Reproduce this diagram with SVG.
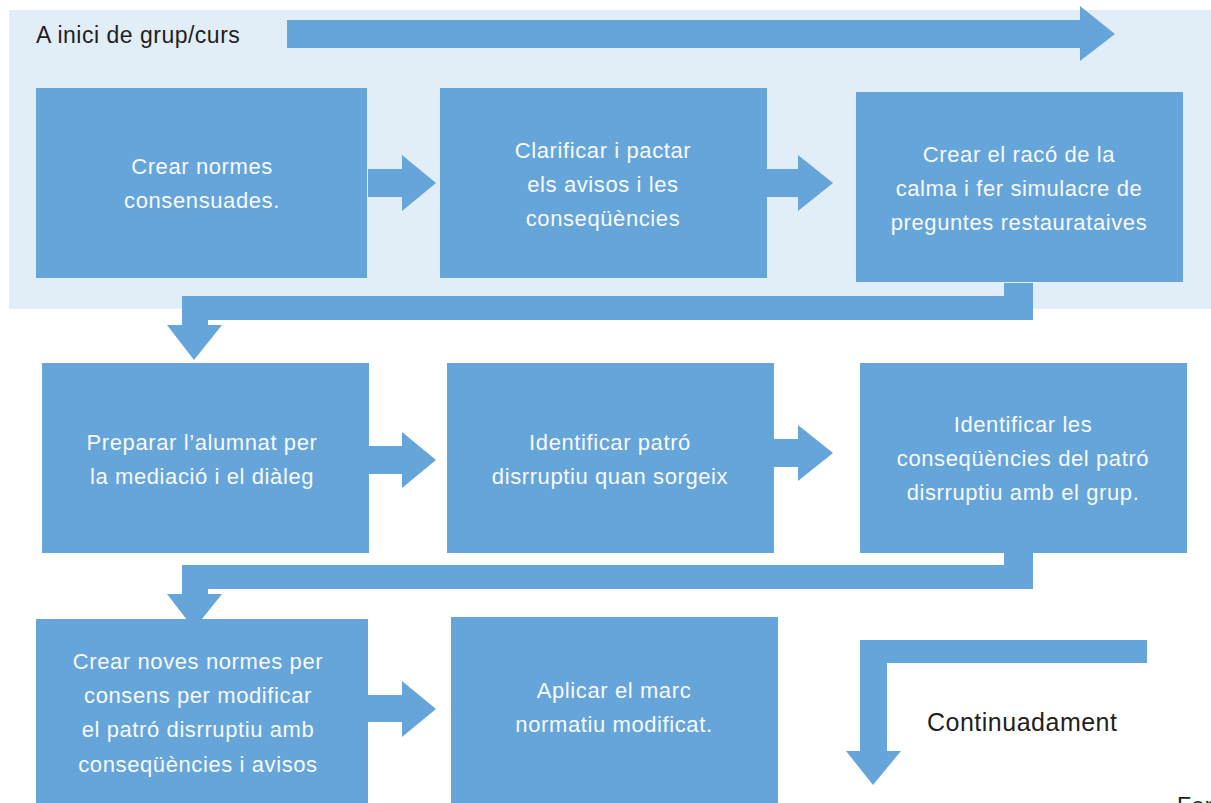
<svg xmlns="http://www.w3.org/2000/svg" width="1211" height="803" viewBox="0 0 1211 803">
  <style>
    .box { fill: #66a5da; }
    .flow { fill: #66a5da; }
    .lbl { font-family: "Liberation Sans", Arial, sans-serif; font-size: 22px; letter-spacing: 0.6px; fill: #f7fafd; text-anchor: middle; }
    .note { font-family: "Liberation Sans", Arial, sans-serif; fill: #231f20; }
  </style>
  <rect width="1211" height="803" fill="#ffffff"/>

  <!-- start-of-course band -->
  <g id="band-start">
    <rect x="9" y="10" width="1202" height="299" fill="#e1edf7"/>
    <text class="note" x="36" y="43" font-size="23" letter-spacing="0.5">A inici de grup/curs</text>
  </g>

  <!-- connectors -->
  <g id="connectors">
    <!-- long arrow across the band -->
    <polygon class="flow" points="287,20 1080,20 1080,6 1115,34 1080,61 1080,48 287,48"/>
    <!-- row 1 -->
    <polygon class="flow" points="368,169 402,169 402,155 436,183 402,211 402,197 368,197"/>
    <polygon class="flow" points="767,169 798,169 798,155 833,183 798,211 798,197 767,197"/>
    <!-- row 1 to row 2 -->
    <polygon class="flow" points="1004,283 1033,283 1033,320 208,320 208,325 222,325 194,360 167,325 182,325 182,296 1004,296"/>
    <!-- row 2 -->
    <polygon class="flow" points="369,446 402,446 402,432 436,460 402,488 402,474 369,474"/>
    <polygon class="flow" points="774,439 798,439 798,425 833,453 798,481 798,467 774,467"/>
    <!-- row 2 to row 3 -->
    <polygon class="flow" points="1004,553 1033,553 1033,589 208,589 208,594 222,594 194,629 167,594 182,594 182,565 1004,565"/>
    <!-- row 3 -->
    <polygon class="flow" points="368,695 402,695 402,681 436,709 402,737 402,722 368,722"/>
    <!-- ongoing loop -->
    <polygon class="flow" points="1147,640 1147,663 887,663 887,751 901,751 873,785 846,751 860,751 860,640"/>
  </g>

  <!-- row 1 -->
  <g id="n1">
    <rect class="box" x="36" y="88" width="331" height="190"/>
    <text class="lbl" x="202" y="174">Crear normes</text>
    <text class="lbl" x="202" y="208">consensuades.</text>
  </g>
  <g id="n2">
    <rect class="box" x="440" y="88" width="327" height="190"/>
    <text class="lbl" x="603" y="158">Clarificar i pactar</text>
    <text class="lbl" x="603" y="192">els avisos i les</text>
    <text class="lbl" x="603" y="226">conseqüències</text>
  </g>
  <g id="n3">
    <rect class="box" x="856" y="92" width="327" height="190"/>
    <text class="lbl" x="1019" y="162">Crear el racó de la</text>
    <text class="lbl" x="1019" y="196">calma i fer simulacre de</text>
    <text class="lbl" x="1019" y="230">preguntes restaurataives</text>
  </g>

  <!-- row 2 -->
  <g id="n4">
    <rect class="box" x="42" y="363" width="327" height="190"/>
    <text class="lbl" x="202" y="450">Preparar l’alumnat per</text>
    <text class="lbl" x="202" y="484">la mediació i el diàleg</text>
  </g>
  <g id="n5">
    <rect class="box" x="447" y="363" width="327" height="190"/>
    <text class="lbl" x="610" y="450">Identificar patró</text>
    <text class="lbl" x="610" y="484">disrruptiu quan sorgeix</text>
  </g>
  <g id="n6">
    <rect class="box" x="860" y="363" width="327" height="190"/>
    <text class="lbl" x="1023" y="432">Identificar les</text>
    <text class="lbl" x="1023" y="466">conseqüències del patró</text>
    <text class="lbl" x="1023" y="500">disrruptiu amb el grup.</text>
  </g>

  <!-- row 3 -->
  <g id="n7">
    <rect class="box" x="36" y="619" width="332" height="184"/>
    <text class="lbl" x="198" y="669">Crear noves normes per</text>
    <text class="lbl" x="198" y="703">consens per modificar</text>
    <text class="lbl" x="198" y="737">el patró disrruptiu amb</text>
    <text class="lbl" x="198" y="772">conseqüències i avisos</text>
  </g>
  <g id="n8">
    <rect class="box" x="451" y="617" width="327" height="186"/>
    <text class="lbl" x="614" y="698">Aplicar el marc</text>
    <text class="lbl" x="614" y="732">normatiu modificat.</text>
  </g>

  <g id="ongoing">
    <text class="note" x="927" y="731" font-size="25" letter-spacing="0.5">Continuadament</text>
  </g>
  <text class="note" x="1177" y="814" font-size="23" letter-spacing="0.5">Fon</text>
</svg>
